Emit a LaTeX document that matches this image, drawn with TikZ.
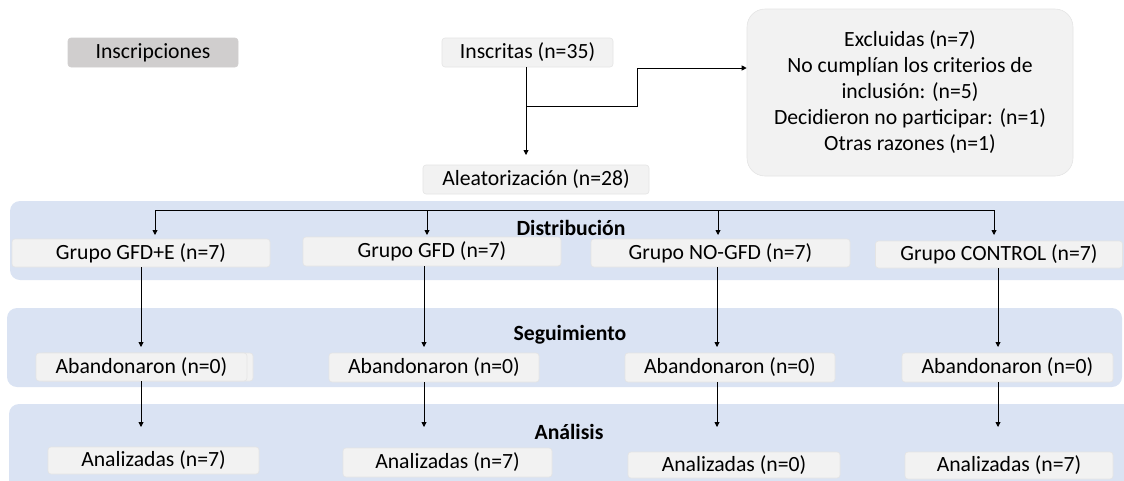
\documentclass[tikz,border=0pt]{standalone}
\usepackage{fontspec}
\setmainfont{Carlito}
\usetikzlibrary{arrows.meta}
\definecolor{band}{HTML}{DAE3F3}
\definecolor{boxf}{HTML}{F2F2F2}
\definecolor{boxd}{HTML}{E4E4E4}
\definecolor{headf}{HTML}{D0CECE}
\tikzset{
  bx/.style={draw=boxd, line width=0.6pt, fill=boxf, rounded corners=3pt, inner sep=0pt, align=center},
  bandbox/.style={fill=band, draw=none, rounded corners=10pt},
  arr/.style={draw=black, line width=0.9pt, -{Triangle[length=5pt,width=5pt]}},
  ln/.style={draw=black, line width=0.9pt},
  lab/.style={inner sep=0pt},
}
\begin{document}
\begin{tikzpicture}[x=1pt,y=-1pt, every node/.append style={font=\fontsize{21.7}{26}\selectfont}]
\useasboundingbox (0,0) rectangle (1124,480);
\clip (0,0) rectangle (1124,480);
% bands
\path[bandbox] (10,201) rectangle (1150,280);
\path[bandbox] (7,308) rectangle (1122,387);
\path[bandbox] (9,404) rectangle (1150,500);
% top nodes
\node[bx, fill=headf, draw=headf, minimum width=170pt, minimum height=29pt] (insc) at (153,52.5) {Inscripciones};
\node[bx, minimum width=171pt, minimum height=29pt] (inscritas) at (527.5,52.5) {Inscritas (n=35)};
\node[bx, minimum width=226pt, minimum height=29pt] (alea) at (536,179.5) {Aleatorización (n=28)};
\node[bx, rounded corners=18pt, minimum width=326pt, minimum height=167pt, font=\fontsize{21.7}{26}\selectfont] (excl) at (910,92.5) {Excluidas (n=7)\\No cumplían los criterios de\\inclusión: (n=5)\\Decidieron no participar: (n=1)\\Otras razones (n=1)};
% labels
\node[lab, font=\fontsize{21.7}{26}\selectfont\bfseries] (ldist) at (571,228) {Distribución};
\node[lab, font=\fontsize{21.7}{26}\selectfont\bfseries] (lseg) at (570,335) {Seguimiento};
\node[lab, font=\fontsize{21.7}{26}\selectfont\bfseries] (lana) at (569,432) {Análisis};
% groups
\node[bx, minimum width=258pt, minimum height=28pt] (g1) at (141,253) {Grupo GFD+E (n=7)};
\node[bx, minimum width=258pt, minimum height=29pt] (g2) at (432,251.5) {Grupo GFD (n=7)};
\node[bx, minimum width=259pt, minimum height=28pt] (g3) at (720.5,253) {Grupo NO-GFD (n=7)};
\node[bx, minimum width=247pt, minimum height=27pt] (g4) at (999,254.5) {Grupo CONTROL (n=7)};
% abandonaron
\path[fill=boxf, draw=boxd, line width=0.6pt, rounded corners=3pt] (40,353) rectangle (253,381);
\node[bx, minimum width=211pt, minimum height=28pt] (a1) at (141.5,367) {Abandonaron (n=0)};
\node[bx, minimum width=210pt, minimum height=29pt] (a2) at (434,367.5) {Abandonaron (n=0)};
\node[bx, minimum width=210pt, minimum height=29pt] (a3) at (730,367.5) {Abandonaron (n=0)};
\node[bx, minimum width=211pt, minimum height=29pt] (a4) at (1007.5,367.5) {Abandonaron (n=0)};
% analizadas
\node[bx, minimum width=211pt, minimum height=27pt] (n1) at (153.5,460.5) {Analizadas (n=7)};
\node[bx, minimum width=209pt, minimum height=29pt] (n2) at (447.5,462.5) {Analizadas (n=7)};
\node[bx, minimum width=212pt, minimum height=26pt] (n3) at (734,465) {Analizadas (n=0)};
\node[bx, minimum width=208pt, minimum height=27pt] (n4) at (1009,465.5) {Analizadas (n=7)};
% top connectors
\coordinate (tA) at (526,155);
\coordinate (b1) at (526,106);
\coordinate (b2) at (637,106);
\coordinate (b3) at (637,68);
\draw[arr] (inscritas.south -| tA) -- (tA);
\draw[arr] (b1) -- (b2) -- (b3) -- (excl.west |- b3);
% distribution
\coordinate (d1) at (155,210);
\coordinate (d2) at (427,210);
\coordinate (d3) at (718,210);
\coordinate (d4) at (994,210);
\draw[ln] (d1) -- (d4);
\draw[arr] (d1) -- ++(0,25);
\draw[arr] (d2) -- ++(0,25);
\draw[arr] (d3) -- ++(0,25);
\draw[arr] (d4) -- ++(0,25);
% columns
\coordinate (c1) at (141,347);
\coordinate (c2) at (424,347);
\coordinate (c3) at (717,347);
\coordinate (c4) at (998,347);
\coordinate (e1) at (141,427);
\coordinate (e2) at (424,427);
\coordinate (e3) at (717,427);
\coordinate (e4) at (998,427);
\draw[arr] (g1.south -| c1) -- (c1);
\draw[arr] (g2.south -| c2) -- (c2);
\draw[arr] (g3.south -| c3) -- (c3);
\draw[arr] (g4.south -| c4) -- (c4);
\draw[arr] (a1.south -| e1) -- (e1);
\draw[arr] (a2.south -| e2) -- (e2);
\draw[arr] (a3.south -| e3) -- (e3);
\draw[arr] (a4.south -| e4) -- (e4);
\end{tikzpicture}
\end{document}
